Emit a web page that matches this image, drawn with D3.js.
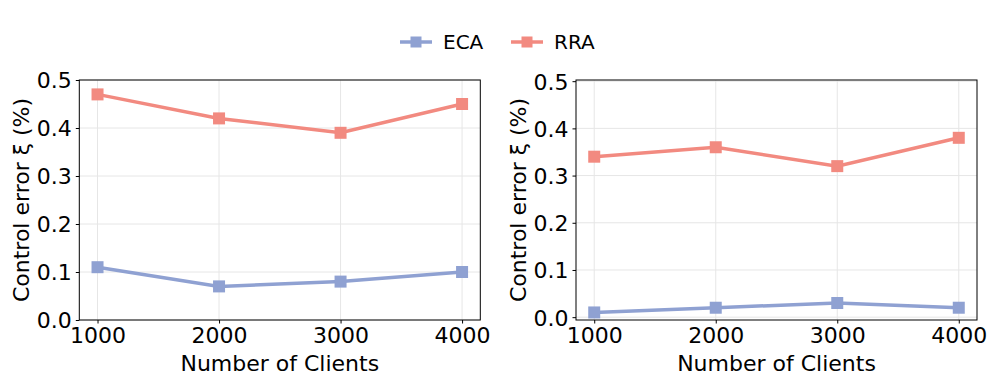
<!DOCTYPE html>
<html><head><meta charset="utf-8">
<script src="https://cdn.jsdelivr.net/npm/d3@7"></script>
<style>body{margin:0;background:#fff}svg{display:block}text{font-family:"DejaVu Sans",sans-serif}</style>
</head><body><svg id="c" width="996" height="386"></svg>
<script>
const clients = [1000, 2000, 3000, 4000];
const seriesNames = ["ECA", "RRA"];
const leftECA = [0.11, 0.07, 0.08, 0.10];
const leftRRA = [0.47, 0.42, 0.39, 0.45];
const rightECA = [0.01, 0.02, 0.03, 0.02];
const rightRRA = [0.34, 0.36, 0.32, 0.38];
const yTicks = [0, 0.1, 0.2, 0.3, 0.4, 0.5];
const colors = {ECA: "#8fa1d2", RRA: "#f28a80"};

const svg = d3.select("#c");

function panel(x0, yDomain, eca, rra) {
  const w = 401, top = 80, bottom = 320;
  const x = d3.scaleLinear().domain([850, 4150]).range([x0, x0 + w]);
  const y = d3.scaleLinear().domain(yDomain).range([bottom, top]);
  const g = svg.append("g");
  g.selectAll(".gx").data(clients).join("line")
    .attr("x1", d => x(d)).attr("x2", d => x(d)).attr("y1", top).attr("y2", bottom)
    .attr("stroke", "#e6e6e6").attr("stroke-width", 1);
  g.selectAll(".gy").data(yTicks).join("line")
    .attr("x1", x0).attr("x2", x0 + w).attr("y1", d => y(d)).attr("y2", d => y(d))
    .attr("stroke", "#e6e6e6").attr("stroke-width", 1);
  const data = {ECA: eca, RRA: rra};
  seriesNames.forEach(s => {
    const pts = clients.map((c, i) => [c, data[s][i]]);
    g.append("path").datum(pts)
      .attr("d", d3.line().x(d => x(d[0])).y(d => y(d[1])))
      .attr("fill", "none").attr("stroke", colors[s]).attr("stroke-width", 3.5);
    g.selectAll(null).data(pts).join("rect")
      .attr("x", d => x(d[0]) - 6).attr("y", d => y(d[1]) - 6)
      .attr("width", 12).attr("height", 12).attr("fill", colors[s]);
  });
  g.append("rect").attr("x", x0).attr("y", top).attr("width", w).attr("height", bottom - top)
    .attr("fill", "none").attr("stroke", "#000").attr("stroke-width", 1);
  const xa = g.append("g").attr("transform", `translate(0,${bottom})`)
    .call(d3.axisBottom(x).tickValues(clients).tickFormat(d3.format("d")).tickSizeOuter(0).tickSize(3.5).tickPadding(3));
  const ya = g.append("g").attr("transform", `translate(${x0},0)`)
    .call(d3.axisLeft(y).tickValues(yTicks).tickFormat(d3.format(".1f")).tickSizeOuter(0).tickSize(3.5).tickPadding(4));
  [xa, ya].forEach(a => {
    a.select(".domain").remove();
    a.selectAll("text").attr("font-size", 22).attr("fill", "#000").attr("font-family", "DejaVu Sans");
    a.selectAll("line").attr("stroke", "#000");
  });
  ya.selectAll("text").attr("dy", "0.36em");
  xa.selectAll("text").attr("dy", "0.75em");
  g.append("text").attr("x", x0 + w / 2).attr("y", 371).attr("text-anchor", "middle")
    .attr("font-size", 22).text("Number of Clients");
  g.append("text").attr("transform", `translate(${x0 - 50},${(top + bottom) / 2}) rotate(-90)`)
    .attr("text-anchor", "middle").attr("font-size", 22).text("Control error ξ (%)");
}

panel(79.3, [0, 0.5], leftECA, leftRRA);
panel(576, [-0.006, 0.5025], rightECA, rightRRA);

const leg = svg.append("g");
const legX = [400, 511];
seriesNames.forEach((s, i) => {
  const lx = legX[i];
  leg.append("line").attr("x1", lx).attr("x2", lx + 32).attr("y1", 42).attr("y2", 42)
    .attr("stroke", colors[s]).attr("stroke-width", 3.5);
  leg.append("rect").attr("x", lx + 16 - 5.5).attr("y", 42 - 5.5).attr("width", 11).attr("height", 11).attr("fill", colors[s]);
  leg.append("text").attr("x", lx + 43).attr("y", 42).attr("dy", "0.36em")
    .attr("font-size", 20).text(s);
});
</script></body></html>
